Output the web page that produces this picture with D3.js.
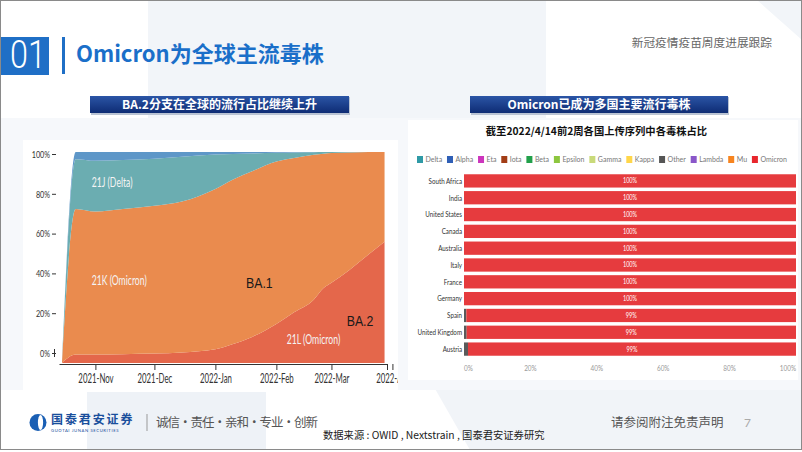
<!DOCTYPE html>
<html><head><meta charset="utf-8">
<script src="https://cdn.jsdelivr.net/npm/d3@7"></script>
<style>
body{margin:0;background:#fff;}
svg{display:block;}
.ce,.cs,.cm{transform-box:fill-box;}
.cs{transform-origin:left center;}
.ce{transform-origin:right center;}
.cm{transform-origin:center center;}
</style></head><body>
<svg id="c" width="802" height="452"></svg>
<script>
// ---------------- data ----------------
// left chart: global clade frequencies (share of sequences)
const variantDates = ["2021-10-15","2021-10-22","2021-11-01","2021-11-15","2021-12-01","2021-12-15","2022-01-01","2022-01-10","2022-01-20","2022-02-01","2022-02-10","2022-02-20","2022-02-25","2022-03-01","2022-03-10","2022-03-20","2022-03-28"];
const ba2Share   = [0, 0.040, 0.040, 0.042, 0.045, 0.050, 0.065, 0.090, 0.125, 0.185, 0.240, 0.300, 0.355, 0.380, 0.440, 0.515, 0.575];
const ba1Share   = [0, 0.690, 0.678, 0.688, 0.700, 0.715, 0.760, 0.780, 0.785, 0.770, 0.732, 0.687, 0.637, 0.615, 0.558, 0.485, 0.425];
const deltaShare = [0, 0.236, 0.240, 0.232, 0.223, 0.213, 0.163, 0.120, 0.083, 0.041, 0.026, 0.012, 0.008, 0.005, 0.002, 0, 0];
const otherCladeShare = [0, 0.034, 0.042, 0.038, 0.032, 0.022, 0.012, 0.010, 0.007, 0.004, 0.002, 0.001, 0, 0, 0, 0, 0];
const cladeKeys   = ["21L","21K","21J","other"];
const cladeColors = ["#e4674b","#ea8b4e","#6badb1","#5e97c8"];
const leftYTicks  = [0, 0.2, 0.4, 0.6, 0.8, 1];
const monthTicks  = ["2021-11-01","2021-12-01","2022-01-01","2022-02-01","2022-03-01","2022-04-01"];

// right chart: share of sequences by variant, 2 weeks before 2022/4/14
const countries    = ["South Africa","India","United States","Canada","Australia","Italy","France","Germany","Spain","United Kingdom","Austria"];
const omicronShare = [100,100,100,100,100,100,100,100,99.3,99.2,98.8];
const otherShare   = [0,0,0,0,0,0,0,0,0.7,0.8,1.2];
const legendNames  = ["Delta","Alpha","Eta","Iota","Beta","Epsilon","Gamma","Kappa","Other","Lambda","Mu","Omicron"];
const legendColors = ["#2f9aa6","#2f5fb6","#cc35bd","#a23d16","#22a04b","#8dc63f","#c9da7a","#ffd64a","#555555","#8a57c9","#f7841f","#e8262d"];
const rightXTicks  = [0,20,40,60,80,100];

// ---------------- drawing ----------------
const svg = d3.select("#c");
const parse = d3.timeParse("%Y-%m-%d");
const defs = svg.append("defs");

// background
svg.append("rect").attr("width",802).attr("height",452).attr("fill","#ffffff");
svg.append("rect").attr("x",148).attr("y",0).attr("width",398).attr("height",140).attr("fill","#f2f5f9");
svg.append("polygon").attr("points","757,0 802,0 802,40").attr("fill","#f2f5f9");
svg.append("rect").attr("x",87).attr("y",390).attr("width",179).attr("height",60).attr("fill","#eef2f7");
svg.append("polygon").attr("points","430,380 802,380 802,450 470,450").attr("fill","#f1f4f8");
svg.append("rect").attr("x",0).attr("y",118).attr("width",802).attr("height",272).attr("fill","#f6f8fb");

// header
svg.append("rect").attr("x",0).attr("y",37).attr("width",49).attr("height",38).attr("fill","#1f6fc6");
svg.append("text").attr("x",28).attr("y",68).attr("text-anchor","middle").attr("class","cm")
  .style("transform","scaleX(0.85)")
  .attr("font-family","Roboto").attr("font-weight",300).attr("font-size",38).attr("fill","#fff").text("01");
svg.append("rect").attr("x",62).attr("y",37).attr("width",3).attr("height",37).attr("fill","#1f6fc6");
svg.append("text").attr("x",76).attr("y",62).attr("font-family","'Noto Sans CJK SC'").attr("font-weight",700)
  .attr("font-size",22).attr("fill","#1a6fc9").text("Omicron为全球主流毒株");
svg.append("text").attr("x",772).attr("y",47).attr("text-anchor","end").attr("font-family","'Noto Sans CJK SC'")
  .attr("font-size",11.7).attr("fill","#666").text("新冠疫情疫苗周度进展跟踪");

// banners
const grad = defs.append("linearGradient").attr("id","bn").attr("x1",0).attr("y1",0).attr("x2",0).attr("y2",1);
grad.append("stop").attr("offset","0").attr("stop-color","#2b55a6");
grad.append("stop").attr("offset","1").attr("stop-color","#0e2c74");
[[90,349,"BA.2分支在全球的流行占比继续上升"],[470,728,"Omicron已成为多国主要流行毒株"]].forEach(b=>{
  svg.append("rect").attr("x",b[0]+1).attr("y",97).attr("width",b[1]-b[0]).attr("height",18).attr("fill","#b9c3d3");
  svg.append("rect").attr("x",b[0]).attr("y",96).attr("width",b[1]-b[0]).attr("height",17).attr("fill","url(#bn)");
  svg.append("text").attr("x",(b[0]+b[1])/2).attr("y",108.8).attr("text-anchor","middle")
    .attr("font-family","'Noto Sans CJK SC'").attr("font-weight",700).attr("font-size",12).attr("fill","#fff").text(b[2]);
});

// ---------- left chart ----------
svg.append("rect").attr("x",23).attr("y",140).attr("width",375).attr("height",252).attr("fill","#fff");
const xL = d3.scaleTime().domain([new Date(2021,9,13,12), new Date(2022,2,29,12)]).range([59,387.5]);
const yA = d3.scaleLinear().domain([0,1]).range([363,152]);
const yL = d3.scaleLinear().domain([0,1]).range([353,154]);

const rows = variantDates.map((d,i)=>({date:parse(d),"21L":ba2Share[i],"21K":ba1Share[i],"21J":deltaShare[i],"other":otherCladeShare[i]}));
const series = d3.stack().keys(cladeKeys)(rows);
const area = d3.area().x(d=>xL(d.data.date)).y0(d=>yA(d[0])).y1(d=>yA(d[1])).curve(d3.curveMonotoneX);
svg.append("g").selectAll("path").data(series).join("path")
  .attr("d",area).attr("fill",(d,i)=>cladeColors[i]);

// y axis
const gy = svg.append("g").attr("transform","translate(56,0)")
  .call(d3.axisLeft(yL).tickValues(leftYTicks).tickFormat(d3.format(".0%")).tickSize(4).tickPadding(2));
gy.select(".domain").remove();
gy.selectAll("line").attr("stroke","#333");
gy.selectAll("text").attr("font-family","Lato").attr("font-size",10).attr("fill","#333")
  .attr("class","ce").style("transform","scaleX(0.72)");
gy.append("line").attr("x1",-1.5).attr("x2",-1.5).attr("y1",yL(0)-4).attr("y2",yL(0)+4).attr("stroke","#333");

// x axis (clipped at the right edge of the embedded chart)
defs.append("clipPath").attr("id","clipL").append("rect").attr("x",20).attr("y",340).attr("width",378).attr("height",60);
const gxWrap = svg.append("g").attr("clip-path","url(#clipL)");
const gx = gxWrap.append("g").attr("transform","translate(0,364)")
  .call(d3.axisBottom(xL).tickValues(monthTicks.map(parse)).tickFormat(d3.timeFormat("%Y-%b")).tickSize(6).tickSizeOuter(0));
gx.select(".domain").attr("stroke","#333");
gx.selectAll("line").attr("stroke","#333");
gx.append("line").attr("x1",xL.range()[1]).attr("x2",xL.range()[1]).attr("y1",0).attr("y2",6).attr("stroke","#333");
gx.selectAll("text").attr("font-family","Lato").attr("font-size",13.5).attr("fill","#333")
  .attr("class","cm").style("transform","scaleX(0.58)");

// area labels
const cladeLabels = [
  {t:"21J (Delta)",  x:91.7, y:187.5, c:"#f4f4f4"},
  {t:"21K (Omicron)",x:91.7, y:285,   c:"#f4f4f4"},
  {t:"21L (Omicron)",x:286.7,y:344.5, c:"#f4f4f4"}
];
svg.append("g").selectAll("text").data(cladeLabels).join("text")
  .attr("x",d=>d.x).attr("y",d=>d.y).attr("fill",d=>d.c).text(d=>d.t)
  .attr("font-family","Lato").attr("font-size",13.5).attr("class","cs").style("transform","scaleX(0.64)");
const subLabels = [{t:"BA.1",x:246,y:288},{t:"BA.2",x:346.7,y:326.5}];
svg.append("g").selectAll("text").data(subLabels).join("text")
  .attr("x",d=>d.x).attr("y",d=>d.y).text(d=>d.t).attr("fill","#1a1a1a")
  .attr("font-family","'Liberation Sans'").attr("font-size",14.5).attr("class","cs").style("transform","scaleX(0.85)");

// ---------- right chart ----------
svg.append("rect").attr("x",408).attr("y",120).attr("width",390).attr("height",260).attr("fill","#fff");
svg.append("text").attr("x",596.5).attr("y",134.5).attr("text-anchor","middle")
  .attr("font-family","'Noto Sans CJK SC'").attr("font-weight",700).attr("font-size",10.3).attr("fill","#111")
  .text("截至2022/4/14前2周各国上传序列中各毒株占比");

// legend
const lg = svg.append("g");
const items = lg.selectAll("g").data(legendNames).join("g");
items.append("rect").attr("x",0).attr("y",-3.5).attr("width",6).attr("height",7).attr("fill",(d,i)=>legendColors[i]);
items.append("text").attr("x",8.5).attr("dy","0.35em").text(d=>d)
  .attr("font-family","Lato").attr("font-size",7).attr("fill","#777");
const widths = items.nodes().map(n=>8.5+d3.select(n).select("text").node().getComputedTextLength());
const lx0 = 417, lx1 = 787;
const gap = (lx1-lx0-d3.sum(widths))/(legendNames.length-1);
let cx = lx0;
items.attr("transform",(d,i)=>{const t=`translate(${cx},159.5)`; cx+=widths[i]+gap; return t;});

const xR = d3.scaleLinear().domain([0,100]).range([464,796]);
const yR = d3.scaleBand().domain(countries).range([172.5,357.5]).paddingInner(0.21).paddingOuter(0.105);
const barRows = countries.map((c,i)=>({country:c, Other:otherShare[i], Omicron:omicronShare[i]}));
const barKeys = ["Other","Omicron"];
const barColors = ["#5a5a5a","#e63b3e"];
const bs = d3.stack().keys(barKeys)(barRows);
svg.append("g").selectAll("g").data(bs).join("g").attr("fill",(d,i)=>barColors[i])
  .selectAll("rect").data(d=>d).join("rect")
  .attr("x",d=>xR(d[0])).attr("width",d=>xR(d[1])-xR(d[0]))
  .attr("y",d=>yR(d.data.country)).attr("height",yR.bandwidth());
// bar value labels (Omicron)
svg.append("g").selectAll("text").data(bs[1]).join("text")
  .attr("x",d=>(xR(d[0])+xR(d[1]))/2).attr("y",d=>yR(d.data.country)+yR.bandwidth()/2).attr("dy","0.35em")
  .attr("text-anchor","middle").text(d=>Math.round(d.data.Omicron)+"%")
  .attr("font-family","Lato").attr("font-size",7).attr("fill","#fff").attr("class","cm").style("transform","scaleX(0.8)");
// country labels
svg.append("g").selectAll("text").data(countries).join("text")
  .attr("x",xR(0)-2).attr("y",d=>yR(d)+yR.bandwidth()/2).attr("dy","0.35em").attr("text-anchor","end").text(d=>d)
  .attr("font-family","Lato").attr("font-size",8).attr("fill","#333").attr("class","ce").style("transform","scaleX(0.78)");
// x labels
svg.append("g").selectAll("text").data(rightXTicks).join("text")
  .attr("x",d=>xR(d)).attr("y",368.5).attr("dy","0.35em")
  .attr("text-anchor",(d,i)=>i===0?"start":(i===rightXTicks.length-1?"end":"middle"))
  .attr("class",(d,i)=>i===0?"cs":(i===rightXTicks.length-1?"ce":"cm"))
  .style("transform","scaleX(0.8)")
  .text(d=>d+"%").attr("font-family","Lato").attr("font-size",8).attr("fill","#999");

// ---------- footer ----------
svg.append("circle").attr("cx",38).attr("cy",422.5).attr("r",8.5).attr("fill","#1a5fb4");
svg.append("ellipse").attr("cx",40.5).attr("cy",422.5).attr("rx",2.6).attr("ry",7.5).attr("fill","#fff");
svg.append("text").attr("x",51).attr("y",423.5).attr("font-family","'Noto Sans CJK SC'").attr("font-weight",700)
  .attr("font-size",12).attr("letter-spacing",1.9).attr("fill","#1a4f9c").text("国泰君安证券");
svg.append("text").attr("x",51).attr("y",431.5).attr("font-family","Lato").attr("font-size",4.2)
  .attr("letter-spacing",0.6).attr("fill","#1a4f9c").text("GUOTAI JUNAN SECURITIES");
svg.append("line").attr("x1",147).attr("x2",147).attr("y1",414).attr("y2",431).attr("stroke","#999");
svg.append("text").attr("x",156).attr("y",427).attr("font-family","'Noto Sans CJK SC'").attr("font-size",12.5)
  .attr("fill","#555").attr("textLength",162).attr("lengthAdjust","spacing").text("诚信·责任·亲和·专业·创新");
svg.append("text").attr("x",323).attr("y",439).attr("font-family","'Noto Sans CJK SC'").attr("font-size",10.3)
  .attr("fill","#222").text("数据来源 : OWID , Nextstrain , 国泰君安证券研究");
svg.append("text").attr("x",611).attr("y",427).attr("font-family","'Noto Sans CJK SC'").attr("font-size",12.5)
  .attr("fill","#555").text("请参阅附注免责声明");
svg.append("text").attr("x",744).attr("y",427).attr("font-family","Lato").attr("font-size",12)
  .attr("fill","#aaa").text("7");

// frame
svg.append("rect").attr("x",0.5).attr("y",0.5).attr("width",801).attr("height",449).attr("fill","none").attr("stroke","#8a8a8a");
</script>
</body></html>
